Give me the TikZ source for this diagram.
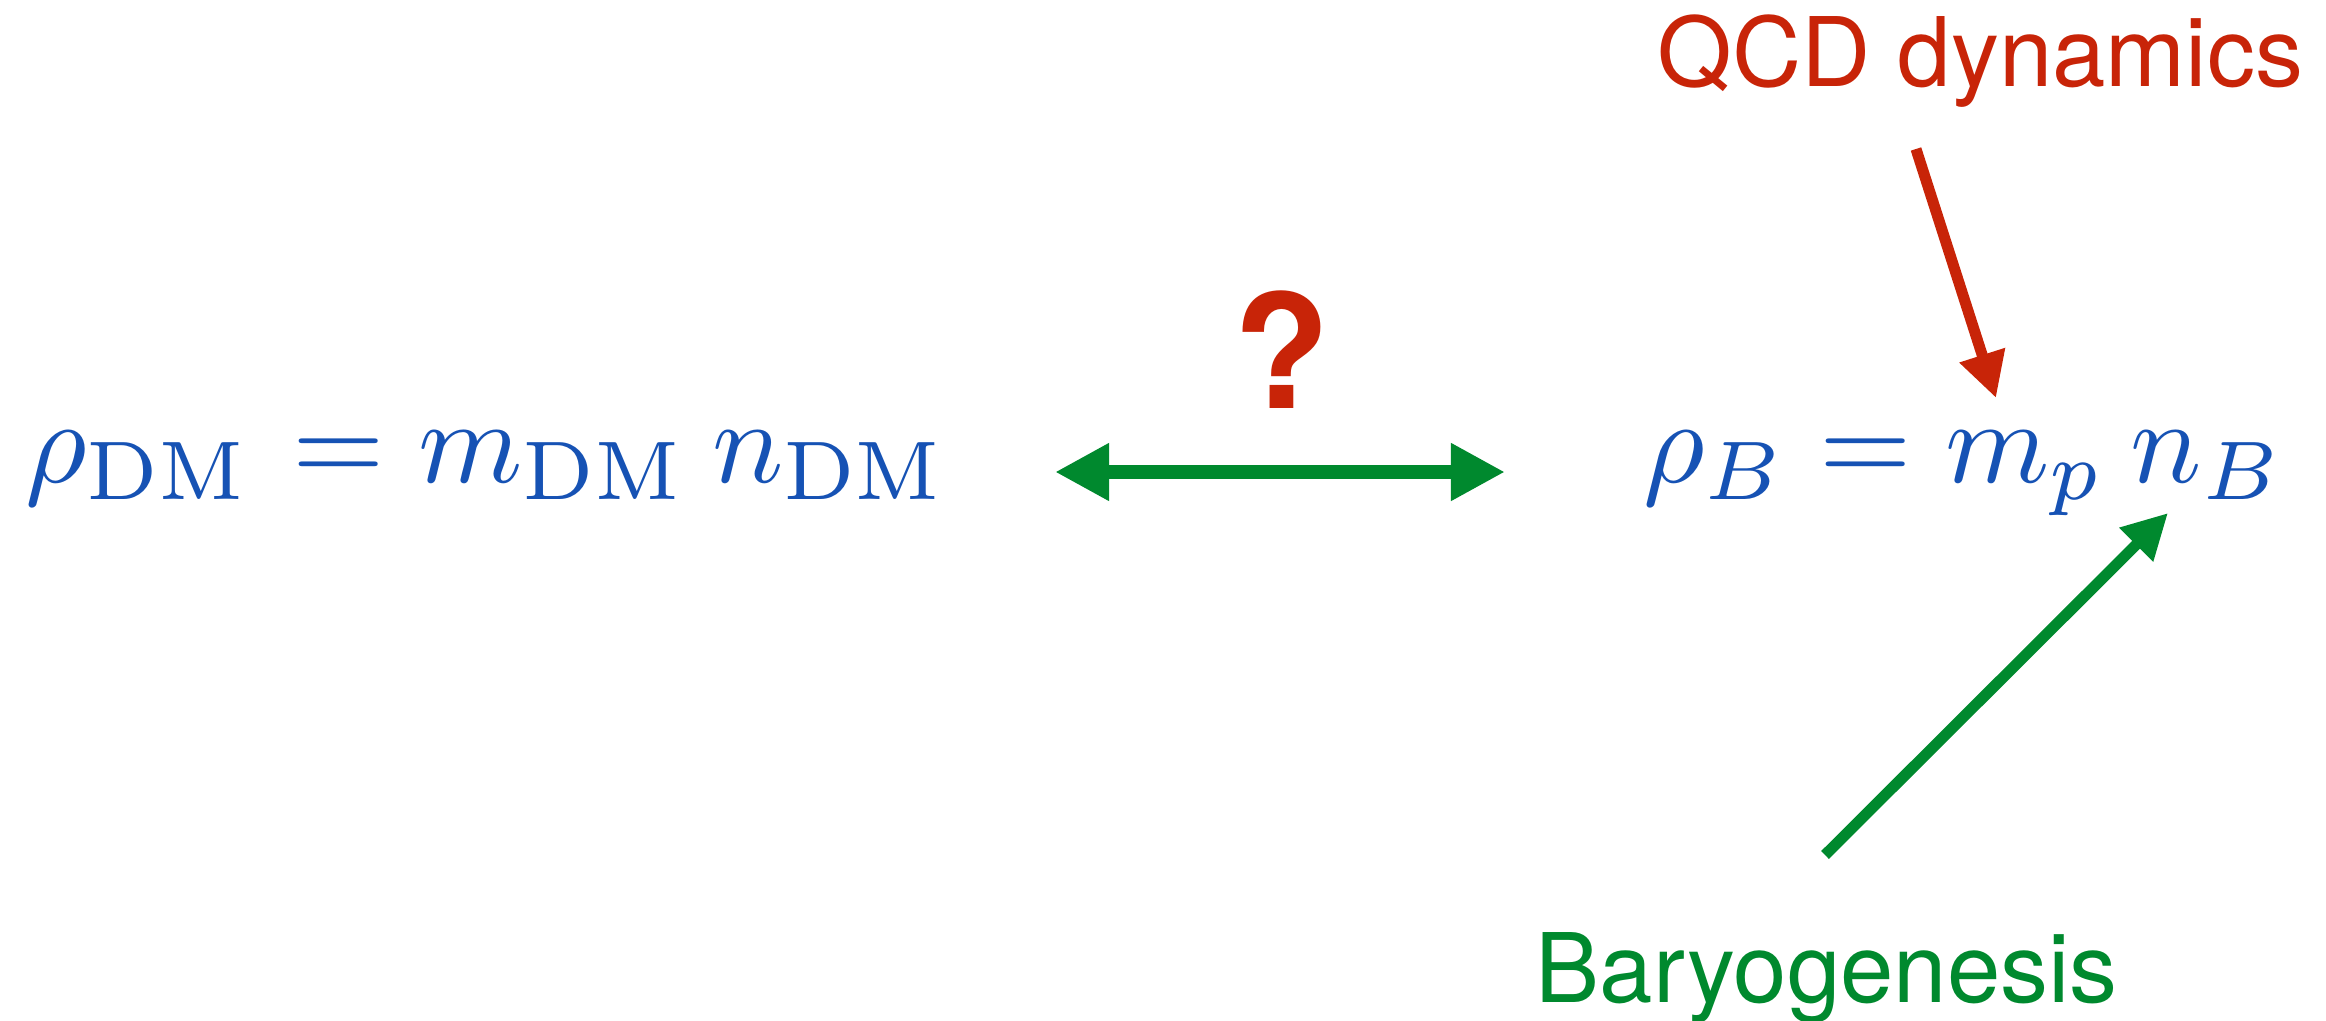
\documentclass[tikz,border=0pt]{standalone}
\usepackage[no-math]{fontspec}
\usetikzlibrary{arrows.meta}
\newfontfamily\helv{TeX Gyre Heros}
\definecolor{fblue}{RGB}{22,82,180}
\definecolor{fred}{RGB}{200,36,8}
\definecolor{fgreen}{RGB}{0,137,46}
\tikzset{
  formula/.style={text=fblue, inner sep=0pt, anchor=base west, scale=3.38},
  label/.style={font=\helv\fontsize{27.3pt}{32pt}\selectfont, inner sep=0pt, anchor=base west},
  bigarrow/.style={draw=fgreen, line width=0.14cm,
    {Triangle[length=0.54cm,width=0.54cm]}-{Triangle[length=0.54cm,width=0.54cm]}},
  thinarrow/.style={line width=0.11cm, -{Triangle[length=0.45cm,width=0.45cm]}}
}
\begin{document}
\begin{tikzpicture}[x=0.01cm,y=-0.01cm]
\useasboundingbox (0,0) rectangle (2326,1021);
% formulas
\node[formula] (dm) at (23,482) {$\rho_{\rm DM}\mkern1.5mu = m_{\rm DM}\mkern4mu n_{\rm DM}$};
\node[formula] (bar) at (1641,482) {$\rho_B = m_p\mkern4mu n_B$};
% labels
\node[label, text=fred] (qcd) at (1657,87) {QCD dynamics};
\node[label, text=fgreen] (bg) at (1535,1002) {Baryogenesis};
\node[text=fred, inner sep=0pt, anchor=base, font=\helv\bfseries\fontsize{45pt}{50pt}\selectfont] (q) at (1282,408) {?};
% connector ends
\coordinate (lt) at (1055,472);
\coordinate (rt) at (1505,472);
\coordinate (qs) at (1916,149);
\coordinate (qt) at (1996,398);
\coordinate (bs) at (1825,855);
\coordinate (bt) at (2168,513);
\draw[bigarrow] (lt) -- (rt);
\draw[thinarrow, draw=fred, fill=fred] (qs) -- (qt);
\draw[thinarrow, draw=fgreen, fill=fgreen] (bs) -- (bt);
\end{tikzpicture}
\end{document}
